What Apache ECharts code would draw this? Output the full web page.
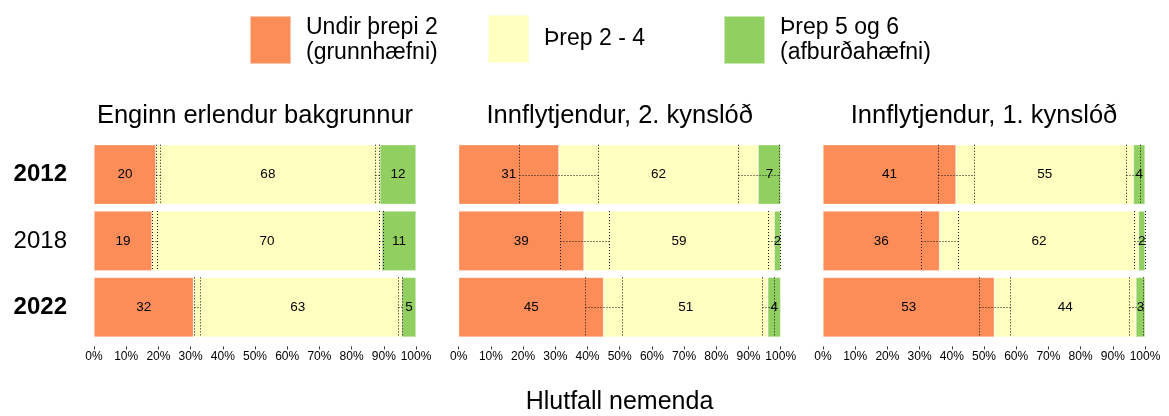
<!DOCTYPE html>
<html>
<head>
<meta charset="utf-8">
<script src="https://cdn.jsdelivr.net/npm/echarts@6/dist/echarts.min.js"></script>
<style>
  html, body { margin: 0; padding: 0; background: #fff; }
  .main { width: 1169px; height: 416px; }
</style>
</head>
<body>
<div class="main"></div>
<script>
const years = ['2012', '2018', '2022'];
const panels = ['Enginn erlendur bakgrunnur', 'Innflytjendur, 2. kynslóð', 'Innflytjendur, 1. kynslóð'];
const levels = ['Undir þrepi 2\n(grunnhæfni)', 'Þrep 2 - 4', 'Þrep 5 og 6\n(afburðahæfni)'];
const colors = ['#fc8d59', '#ffffbf', '#91cf60'];

// hlutfall í hverjum hópi, eitt fylki fyrir hvert spjald (ár 2012, 2018, 2022)
const undir = [[19.2, 18.0, 30.9], [31.1, 38.9, 45.0], [41.3, 36.2, 53.2]];
const threp24 = [[69.6, 71.4, 64.7], [61.9, 59.1, 51.0], [55.1, 61.8, 44.0]];
const threp56 = [[11.2, 10.6, 4.4], [7.0, 2.0, 4.0], [3.6, 2.0, 2.8]];

// tölur sem eru skrifaðar á súlurnar
const undirLabel = [[20, 19, 32], [31, 39, 45], [41, 36, 53]];
const threp24Label = [[68, 70, 63], [62, 59, 51], [55, 62, 44]];
const threp56Label = [[12, 11, 5], [7, 2, 4], [4, 2, 3]];

// öryggisbil við mörkin (neðri, efri)
const ciUndir = [
  [[19.3, 20.6], [18.0, 19.7], [31.0, 32.8]],
  [[18.8, 43.2], [31.4, 46.7], [39.2, 50.8]],
  [[35.6, 46.9], [30.5, 41.9], [48.5, 58.2]]
];
const ciEfri = [
  [[87.2, 88.6], [88.4, 89.6], [94.4, 95.6]],
  [[86.6, 99.6], [96.1, 99.8], [94.1, 97.9]],
  [[94.1, 98.4], [96.5, 100], [95.1, 99.5]]
];

const gridLeft = [94, 458.7, 823];
const gridWidth = 322;

let myChart = echarts.init(document.querySelector('.main'));

/**
 * Teiknar öryggisbil sem punktalínur
 */
function renderCI(params, api) {
  let lo = api.coord([api.value(0), api.value(2)]);
  let hi = api.coord([api.value(1), api.value(2)]);
  let h = api.size([0, 1])[1] * 0.9;
  let xa = Math.round(lo[0]) + 0.5,
      xb = Math.round(hi[0]) + 0.5,
      ym = Math.round(lo[1]) + 0.5;
  let y0 = lo[1] - h / 2,
      y1 = lo[1] + h / 2;
  let style = { stroke: '#111', lineWidth: 1, lineDash: [1, 2], fill: null };
  return {
    type: 'group',
    children: [
      { type: 'line', shape: { x1: xa, y1: y0, x2: xa, y2: y1 }, style: style },
      { type: 'line', shape: { x1: xb, y1: y0, x2: xb, y2: y1 }, style: style },
      { type: 'line', shape: { x1: xa, y1: ym, x2: xb, y2: ym }, style: style }
    ]
  };
}

let grids = [], xAxes = [], yAxes = [], series = [], graphics = [];
let valueSets = [undir, threp24, threp56];
let labelSets = [undirLabel, threp24Label, threp56Label];

panels.forEach((title, p) => {
  grids.push({ left: gridLeft[p], width: gridWidth, top: 141.4, bottom: 75.6 });
  xAxes.push({
    gridIndex: p, type: 'value', min: 0, max: 100, interval: 10, offset: 6,
    axisLine: { show: false },
    axisTick: { show: true, length: 3, lineStyle: { color: '#333' } },
    splitLine: { show: false },
    axisLabel: { formatter: '{value}%', color: '#000', fontSize: 12, margin: 4,
                 fontFamily: 'Liberation Sans' }
  });
  yAxes.push({
    gridIndex: p, type: 'category', data: years, inverse: true,
    axisLine: { show: false }, axisTick: { show: false },
    axisLabel: {
      show: p === 0, margin: 27,
      formatter: (v) => (v === '2018' ? '{n|' + v + '}' : '{b|' + v + '}'),
      rich: {
        b: { fontWeight: 'bold', fontSize: 24, color: '#000', fontFamily: 'Liberation Sans' },
        n: { fontSize: 24, color: '#000', fontFamily: 'Liberation Sans' }
      }
    }
  });

  levels.forEach((lvl, k) => {
    series.push({
      name: lvl, type: 'bar', stack: 'p' + p,
      xAxisIndex: p, yAxisIndex: p,
      barCategoryGap: '10%',
      data: valueSets[k][p],
      itemStyle: { color: colors[k], borderColor: 'rgba(255,255,255,0.5)', borderWidth: 0.6 },
      label: {
        show: true, position: 'inside', color: '#000', fontSize: 13.5,
        fontFamily: 'Liberation Sans',
        formatter: (prm) => String(labelSets[k][p][prm.dataIndex])
      },
      emphasis: { disabled: true }
    });
  });

  [ciUndir, ciEfri].forEach((ci, c) => {
    series.push({
      type: 'custom', name: 'ci' + c,
      xAxisIndex: p, yAxisIndex: p, z: 5,
      renderItem: renderCI,
      encode: { x: [0, 1], y: 2 },
      data: ci[p].map((d, i) => [d[0], d[1], i]),
      silent: true
    });
  });

  graphics.push({
    type: 'text', x: gridLeft[p] + gridWidth / 2, y: 116,
    style: { text: title, textAlign: 'center', textVerticalAlign: 'middle',
             fontSize: 25.5, fill: '#000', fontFamily: 'Liberation Sans' }
  });
});

graphics.push({
  type: 'text', x: (gridLeft[0] + gridLeft[2] + gridWidth) / 2, y: 402,
  style: { text: 'Hlutfall nemenda', textAlign: 'center', textVerticalAlign: 'middle',
           fontSize: 25, fill: '#000', fontFamily: 'Liberation Sans' }
});

let legendLeft = [249, 487, 723];
let legends = levels.map((lvl, k) => ({
  data: [lvl], left: legendLeft[k], top: 14, padding: 0,
  icon: 'rect', itemWidth: 41, itemHeight: 48,
  selectedMode: false,
  textStyle: { fontSize: 23, lineHeight: 25, color: '#000', padding: [2, 0, 0, 10],
               fontFamily: 'Liberation Sans' }
}));

let option = {
  animation: false,
  backgroundColor: '#fff',
  legend: legends,
  grid: grids,
  xAxis: xAxes,
  yAxis: yAxes,
  series: series,
  graphic: graphics
};

myChart.setOption(option);
</script>
</body>
</html>
